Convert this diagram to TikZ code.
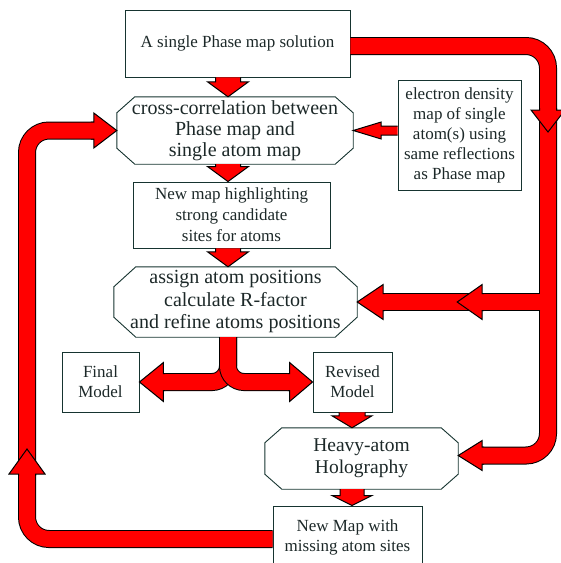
\documentclass[tikz,border=0pt]{standalone}
\usepackage{fontspec}
\setmainfont{Liberation Serif}
\usetikzlibrary{calc}

\definecolor{ink}{RGB}{28,40,40}
\definecolor{boxline}{RGB}{22,52,48}
\definecolor{arrowred}{RGB}{255,0,0}

% #1 tail, #2 tip, #3 shaft half width, #4 head half width, #5 head length
\newcommand{\blockarrow}[5]{%
  \coordinate (ba@) at ($(#2)!#5pt!(#1)$);
  \coordinate (s1@) at ($(#1)!#3pt!90:(#2)$);
  \coordinate (s2@) at ($(#1)!#3pt!-90:(#2)$);
  \coordinate (b1@) at ($(ba@)!#3pt!90:(#2)$);
  \coordinate (b2@) at ($(ba@)!#3pt!-90:(#2)$);
  \coordinate (h1@) at ($(ba@)!#4pt!90:(#2)$);
  \coordinate (h2@) at ($(ba@)!#4pt!-90:(#2)$);
  \fill[arrowred] (s1@) -- (b1@) -- (h1@) -- (#2) -- (h2@) -- (b2@) -- (s2@) -- cycle;
  \draw[line width=1pt, line join=miter] (s1@) -- (b1@) -- (h1@) -- (#2) -- (h2@) -- (b2@) -- (s2@);
}
% #1 node, #2 x chamfer, #3 y chamfer
\newcommand{\octoframe}[3]{%
  \draw[boxline, line width=0.9pt] ([xshift=#2pt]#1.north west) -- ([xshift=-#2pt]#1.north east)
    -- ([yshift=-#3pt]#1.north east) -- ([yshift=#3pt]#1.south east)
    -- ([xshift=-#2pt]#1.south east) -- ([xshift=#2pt]#1.south west)
    -- ([yshift=#3pt]#1.south west) -- ([yshift=-#3pt]#1.north west) -- cycle;
}

\begin{document}
\begin{tikzpicture}[x=1pt,y=-1pt,
  box/.style={draw=boxline, line width=0.9pt, inner sep=0pt, align=center, text=ink},
  octo/.style={inner sep=0pt, align=center, text=ink},
  band/.style={draw=black, line width=1pt, double=arrowred, double distance=16pt, rounded corners=22pt}]
\useasboundingbox (0,0) rectangle (561,563);

% boxes
\node[box, minimum width=225pt, minimum height=67pt, font=\fontsize{17}{20}\selectfont] (top) at (237.5,43.5) {A single Phase map solution};
\node[octo, minimum width=236pt, minimum height=67pt, font=\fontsize{20}{21}\selectfont] (cross) at (235,130.5) {cross-correlation between\\Phase map and\\single atom map};
\node[box, minimum width=123pt, minimum height=110pt, font=\fontsize{17}{20}\selectfont] (ed) at (459.5,135) {electron density\\map of single\\atom(s) using\\same reflections\\as Phase map};
\node[box, minimum width=197pt, minimum height=66pt, font=\fontsize{17}{21}\selectfont] (newA) at (231.5,215) {New map highlighting\\strong candidate\\sites for atoms};
\node[octo, minimum width=243pt, minimum height=70pt, font=\fontsize{20}{22.5}\selectfont] (assign) at (235.5,302) {assign atom positions\\calculate R-factor\\and refine atoms positions};
\node[box, minimum width=77pt, minimum height=60pt, font=\fontsize{17}{20}\selectfont] (final) at (100.5,382) {Final\\Model};
\node[box, minimum width=79pt, minimum height=60pt, font=\fontsize{17}{20}\selectfont] (revised) at (352.5,382) {Revised\\Model};
\node[octo, minimum width=193pt, minimum height=61pt, font=\fontsize{19.5}{22}\selectfont] (heavy) at (361.5,458.5) {Heavy-atom\\Holography};
\node[box, minimum width=149pt, minimum height=62pt, font=\fontsize{17}{20}\selectfont] (newB) at (347.5,537) {New Map with\\missing atom sites};
\octoframe{cross}{18}{16}
\octoframe{assign}{22}{20}
\octoframe{heavy}{17}{15}

% guide lines
\coordinate (axis) at (228,0);
\coordinate (axisb) at (352,0);
\coordinate (rx) at (548,0);
\coordinate (lx) at (27,0);

% big loops
\coordinate (hve) at ([yshift=3pt]heavy.east);
\coordinate (hvb) at ($(hve)+(24,0)$);
\draw[band] ([yshift=-2.5pt]top.east) -| (rx |- hvb) -- (hvb);
\coordinate (rj) at ($(rx |- assign.east)+(-8,0)$);
\coordinate (asb) at ($(assign.east)+(26,0)$);
\draw[band] (rj) -- (asb);
\coordinate (crb) at ($(cross.west)+(-23,0)$);
\draw[band] ([yshift=-2pt]newB.west) -| (lx |- crb) -- (crb);
\coordinate (fnb) at ($(final.east)+(24,0)$);
\coordinate (rvb) at ($(revised.west)+(-23,0)$);
\draw[band, rounded corners=16pt] (assign.south -| axis) |- (fnb);
\draw[band, rounded corners=16pt] (assign.south -| axis) |- (rvb);

% heads on the loops
\coordinate (rd1) at ($(rx)+(0,108)$);
\coordinate (rd2) at ($(rx)+(0,132)$);
\blockarrow{rd1}{rd2}{8.5}{17}{22}
\coordinate (lu1) at ($(lx)+(0,476)$);
\coordinate (lu2) at ($(lx)+(0,449)$);
\blockarrow{lu1}{lu2}{8.5}{18}{25}
\coordinate (crt) at ($(cross.west)+(-26,0)$);
\blockarrow{crt}{cross.west}{8.5}{17.5}{23}
\coordinate (hvt) at ($(hve)+(26,0)$);
\blockarrow{hvt}{hve}{8.5}{15}{24}
\coordinate (ast2) at ($(assign.east)+(127,0)$);
\coordinate (asp2) at ($(assign.east)+(100,0)$);
\blockarrow{ast2}{asp2}{8.5}{17.5}{25}
\coordinate (ast1) at ($(assign.east)+(28,0)$);
\blockarrow{ast1}{assign.east}{8.5}{17.5}{26}
\coordinate (fnt) at ($(final.east)+(26,0)$);
\blockarrow{fnt}{final.east}{8.5}{19.5}{24}
\coordinate (rvt) at ($(revised.west)+(-25,0)$);
\blockarrow{rvt}{revised.west}{8.5}{19.5}{23}

% short arrows
\coordinate (edt) at (ed.west |- cross.east);
\blockarrow{edt}{cross.east}{4.5}{8.5}{28}
\coordinate (a1) at (top.south -| axis);
\coordinate (a2) at (cross.north -| axis);
\blockarrow{a1}{a2}{12.5}{20.5}{15}
\coordinate (a3) at (cross.south -| axis);
\coordinate (a4) at (newA.north -| axis);
\blockarrow{a3}{a4}{12.5}{20.5}{15}
\coordinate (a5) at (newA.south -| axis);
\coordinate (a6) at (assign.north -| axis);
\blockarrow{a5}{a6}{12.5}{20.5}{15}
\coordinate (rv1) at (revised.south -| axisb);
\coordinate (rv2) at (heavy.north -| axisb);
\blockarrow{rv1}{rv2}{13}{20}{12}
\coordinate (hv1) at (heavy.south -| axisb);
\coordinate (hv2) at (newB.north -| axisb);
\blockarrow{hv1}{hv2}{12}{20}{10}
\end{tikzpicture}
\end{document}
